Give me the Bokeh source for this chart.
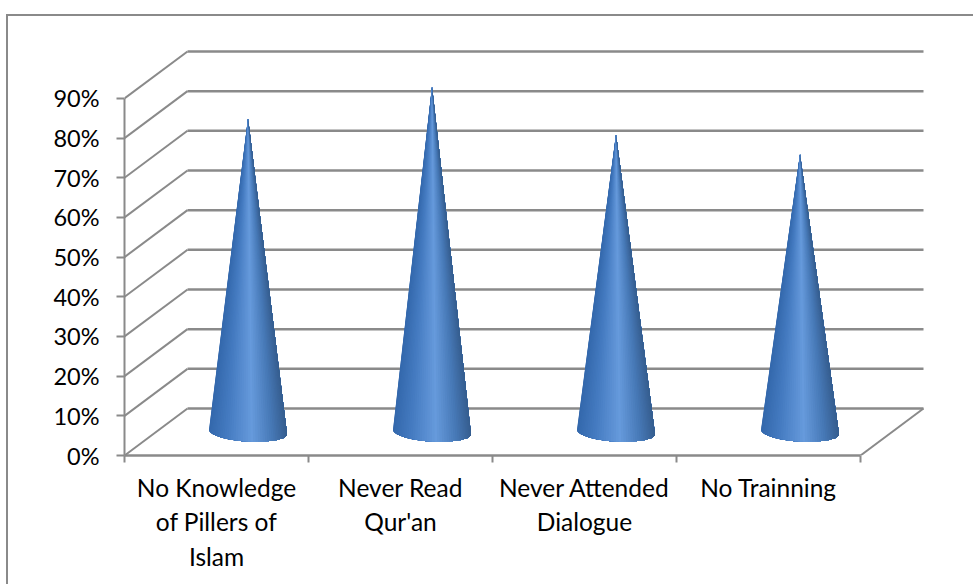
import math

from bokeh.embed import file_html
from bokeh.models import FixedTicker, LinearAxis, Range1d
from bokeh.plotting import figure
from bokeh.resources import INLINE

# Survey results, percent of respondents
categories = ["No Knowledge\nof Pillers of\nIslam", "Never Read\nQur'an", "Never Attended\nDialogue", "No Trainning"]
values = [79, 87, 75, 70]
percent_ticks = [0, 10, 20, 30, 40, 50, 60, 70, 80, 90]

# Page geometry of the plot frame
WIDTH, HEIGHT = 973, 584
FRAME_L, FRAME_R, FRAME_T, FRAME_B = 124, 930, 40, 455
PX_PER_X = 184.0
PX_PER_Y = 3.967

# Oblique depth of the 3-D floor, in data units
DEPTH_X = 63 / PX_PER_X
DEPTH_Y = 47 / PX_PER_Y

GREY = "#8a8a8a"
FONT = "Lato"

p = figure(
    width=WIDTH, height=HEIGHT, output_backend="svg", toolbar_location=None,
    x_axis_type=None, y_axis_type=None, tools="",
    x_range=Range1d(0, (FRAME_R - FRAME_L) / PX_PER_X),
    y_range=Range1d(0, (FRAME_B - FRAME_T) / PX_PER_Y),
    min_border_left=FRAME_L, min_border_right=WIDTH - FRAME_R,
    min_border_top=FRAME_T, min_border_bottom=HEIGHT - FRAME_B,
)
p.outline_line_color = None
p.grid.visible = False
p.background_fill_color = "white"
p.border_fill_color = "white"

# Outer chart border: only its top and left sides fall on the page
p.stylesheets = [
    ":host::after { content: ''; position: absolute; z-index: 10; pointer-events: none; "
    "left: 6px; top: 14px; right: 0; bottom: 0; "
    f"border-top: 2px solid {GREY}; border-left: 2px solid {GREY}; }}"
]

# Side wall and back wall gridlines
n_cat = len(categories)
wall_x0 = [0 for _ in percent_ticks]
wall_x1 = [DEPTH_X for _ in percent_ticks]
wall_y0 = list(percent_ticks)
wall_y1 = [t + DEPTH_Y for t in percent_ticks]
p.segment(wall_x0, wall_y0, wall_x1, wall_y1, line_color=GREY, line_width=2)
p.segment(wall_x1, wall_y1, [n_cat + DEPTH_X for _ in percent_ticks], wall_y1, line_color=GREY, line_width=2.5)

# Right edge of the floor
p.segment([n_cat], [0], [n_cat + DEPTH_X], [DEPTH_Y], line_color=GREY, line_width=2)


def shade(t):
    """Horizontal shading across a cone, t in [-1, 1]."""
    stops = [(-1.0, (52, 104, 172)), (-0.55, (68, 122, 192)), (0.1, (102, 154, 220)),
             (0.6, (72, 122, 184)), (1.0, (54, 94, 144))]
    for (a, ca), (b, cb) in zip(stops, stops[1:]):
        if a <= t <= b:
            f = (t - a) / (b - a)
            return "#%02x%02x%02x" % tuple(round(u + (v - u) * f) for u, v in zip(ca, cb))
    return "#%02x%02x%02x" % stops[-1][1]


# Cones: painted left to right, each layer spanning from its own edge to the
# far side of the base so that neighbouring shades leave no seam
RADIUS_X = 39 / PX_PER_X
RADIUS_Y = 9.5 / PX_PER_Y
TILT_Y = 2.2 / PX_PER_Y
SLICES = 48

xs, ys, colors = [], [], []
for i, v in enumerate(values):
    cx = i + 0.5 + DEPTH_X / 2
    base = DEPTH_Y / 2
    apex = base + v
    arc = []
    for k in range(SLICES + 1):
        a = math.pi * k / SLICES
        t = -math.cos(a)
        arc.append((cx + RADIUS_X * t, base - RADIUS_Y * math.sin(a) - TILT_Y * t, t))
    for k in range(SLICES):
        xs.append([cx] + [q[0] for q in arc[k:]])
        ys.append([apex] + [q[1] for q in arc[k:]])
        colors.append(shade((arc[k][2] + arc[k + 1][2]) / 2))
p.patches(xs, ys, fill_color=colors, line_color=None)

# Value axis
y_axis = LinearAxis(ticker=FixedTicker(ticks=percent_ticks), bounds=(0, 90))
y_axis.major_label_overrides = {t: f"{t}%" for t in percent_ticks}
y_axis.major_label_text_font = FONT
y_axis.major_label_text_font_size = "23.5px"
y_axis.major_label_text_color = "black"
y_axis.major_label_standoff = 17
y_axis.axis_line_color = GREY
y_axis.axis_line_width = 2
y_axis.major_tick_line_color = GREY
y_axis.major_tick_line_width = 2
y_axis.major_tick_in = 0
y_axis.major_tick_out = 8
y_axis.minor_tick_line_color = None
p.add_layout(y_axis, "left")

# Category axis: labels centred on each category, tick marks on the boundaries
boundaries = list(range(n_cat + 1))
centres = [i + 0.5 for i in range(n_cat)]
x_axis = LinearAxis(ticker=FixedTicker(ticks=centres, minor_ticks=boundaries), bounds=(0, n_cat))
x_axis.major_label_overrides = dict(zip(centres, categories))
x_axis.major_label_text_font = FONT
x_axis.major_label_text_font_size = "24.5px"
x_axis.major_label_text_color = "black"
x_axis.major_label_standoff = 10
x_axis.axis_line_color = GREY
x_axis.axis_line_width = 2.5
x_axis.major_tick_line_color = None
x_axis.major_tick_in = 0
x_axis.major_tick_out = 0
x_axis.minor_tick_line_color = GREY
x_axis.minor_tick_line_width = 2
x_axis.minor_tick_in = 0
x_axis.minor_tick_out = 7
p.add_layout(x_axis, "below")

open("out.html", "w").write(file_html(p, INLINE))
